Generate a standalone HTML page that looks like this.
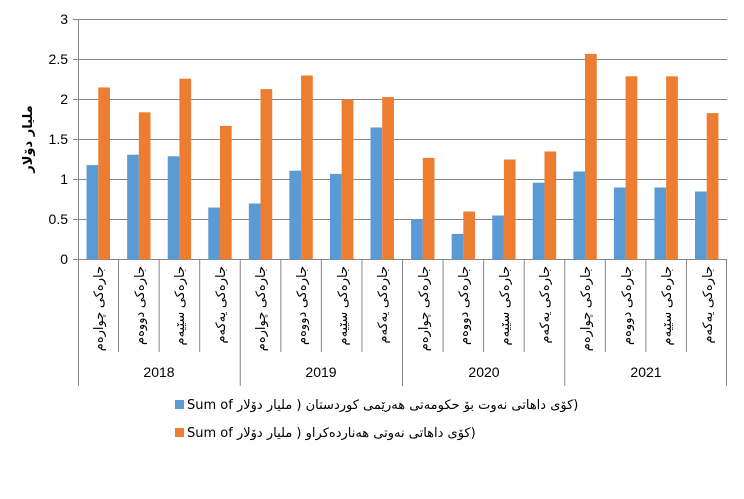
<!DOCTYPE html>
<html><head><meta charset="utf-8"><style>
body{margin:0;background:#fff;}
svg text{font-family:"Liberation Sans","DejaVu Sans",sans-serif;}
.ar{font-family:"DejaVu Sans",sans-serif;}
</style></head><body>
<svg width="744" height="494" xmlns="http://www.w3.org/2000/svg">
<rect width="744" height="494" fill="#fff"/>
<g stroke="#868686" stroke-width="1">
<line x1="78" y1="19.5" x2="727" y2="19.5"/>
<line x1="78" y1="59.5" x2="727" y2="59.5"/>
<line x1="78" y1="99.5" x2="727" y2="99.5"/>
<line x1="78" y1="139.5" x2="727" y2="139.5"/>
<line x1="78" y1="179.5" x2="727" y2="179.5"/>
<line x1="78" y1="219.5" x2="727" y2="219.5"/>
<line x1="78" y1="259.5" x2="727" y2="259.5"/>
<line x1="78.5" y1="19" x2="78.5" y2="259"/>
<line x1="73" y1="19.5" x2="78" y2="19.5"/>
<line x1="73" y1="59.5" x2="78" y2="59.5"/>
<line x1="73" y1="99.5" x2="78" y2="99.5"/>
<line x1="73" y1="139.5" x2="78" y2="139.5"/>
<line x1="73" y1="179.5" x2="78" y2="179.5"/>
<line x1="73" y1="219.5" x2="78" y2="219.5"/>
<line x1="73" y1="259.5" x2="78" y2="259.5"/>
</g>
<g font-size="14" fill="#000" text-anchor="end">
<text x="68" y="24">3</text><text x="68" y="64">2.5</text><text x="68" y="104">2</text>
<text x="68" y="144">1.5</text><text x="68" y="184">1</text><text x="68" y="224">0.5</text><text x="68" y="264">0</text>
</g>
<text transform="translate(32,139) rotate(-90)" text-anchor="middle" font-size="13" font-weight="bold" class="ar">ملیار دۆلار</text>
<g fill="#5b9bd5">
<rect x="86.58" y="165.1" width="11.7" height="94.4"/>
<rect x="127.14" y="154.7" width="11.7" height="104.8"/>
<rect x="167.71" y="156.3" width="11.7" height="103.2"/>
<rect x="208.27" y="207.5" width="11.7" height="52"/>
<rect x="248.83" y="203.5" width="11.7" height="56"/>
<rect x="289.39" y="170.7" width="11.7" height="88.8"/>
<rect x="329.96" y="173.9" width="11.7" height="85.6"/>
<rect x="370.52" y="127.5" width="11.7" height="132"/>
<rect x="411.08" y="219.5" width="11.7" height="40"/>
<rect x="451.64" y="233.9" width="11.7" height="25.6"/>
<rect x="492.21" y="215.5" width="11.7" height="44"/>
<rect x="532.77" y="182.7" width="11.7" height="76.8"/>
<rect x="573.33" y="171.5" width="11.7" height="88"/>
<rect x="613.89" y="187.5" width="11.7" height="72"/>
<rect x="654.46" y="187.5" width="11.7" height="72"/>
<rect x="695.02" y="191.5" width="11.7" height="68"/>
</g>
<g fill="#ed7d31">
<rect x="98.28" y="87.5" width="11.7" height="172"/>
<rect x="138.84" y="112.3" width="11.7" height="147.2"/>
<rect x="179.41" y="78.7" width="11.7" height="180.8"/>
<rect x="219.97" y="125.9" width="11.7" height="133.6"/>
<rect x="260.53" y="89.1" width="11.7" height="170.4"/>
<rect x="301.09" y="75.5" width="11.7" height="184"/>
<rect x="341.66" y="99.5" width="11.7" height="160"/>
<rect x="382.22" y="97.1" width="11.7" height="162.4"/>
<rect x="422.78" y="157.9" width="11.7" height="101.6"/>
<rect x="463.34" y="211.5" width="11.7" height="48"/>
<rect x="503.91" y="159.5" width="11.7" height="100"/>
<rect x="544.47" y="151.5" width="11.7" height="108"/>
<rect x="585.03" y="53.9" width="11.7" height="205.6"/>
<rect x="625.59" y="76.3" width="11.7" height="183.2"/>
<rect x="666.16" y="76.3" width="11.7" height="183.2"/>
<rect x="706.72" y="113.1" width="11.7" height="146.4"/>
</g>
<g stroke="#868686" stroke-width="1">
<line x1="78.5" y1="259" x2="78.5" y2="386"/>
<line x1="118.56" y1="259" x2="118.56" y2="352"/>
<line x1="159.13" y1="259" x2="159.13" y2="352"/>
<line x1="199.69" y1="259" x2="199.69" y2="352"/>
<line x1="240.25" y1="259" x2="240.25" y2="386"/>
<line x1="280.81" y1="259" x2="280.81" y2="352"/>
<line x1="321.38" y1="259" x2="321.38" y2="352"/>
<line x1="361.94" y1="259" x2="361.94" y2="352"/>
<line x1="402.5" y1="259" x2="402.5" y2="386"/>
<line x1="443.06" y1="259" x2="443.06" y2="352"/>
<line x1="483.63" y1="259" x2="483.63" y2="352"/>
<line x1="524.19" y1="259" x2="524.19" y2="352"/>
<line x1="564.75" y1="259" x2="564.75" y2="386"/>
<line x1="605.31" y1="259" x2="605.31" y2="352"/>
<line x1="645.88" y1="259" x2="645.88" y2="352"/>
<line x1="686.44" y1="259" x2="686.44" y2="352"/>
<line x1="726.5" y1="259" x2="726.5" y2="386"/>
</g>
<g font-size="13" class="ar" text-anchor="end">
<text transform="translate(103,266) rotate(-90)">جارەکی چوارەم</text>
<text transform="translate(144,266) rotate(-90)">جارەکی دووەم</text>
<text transform="translate(184,266) rotate(-90)">جارەکی سێیەم</text>
<text transform="translate(225,266) rotate(-90)">جارەکی یەکەم</text>
<text transform="translate(265,266) rotate(-90)">جارەکی چوارەم</text>
<text transform="translate(306,266) rotate(-90)">جارەکی دووەم</text>
<text transform="translate(347,266) rotate(-90)">جارەکی سێیەم</text>
<text transform="translate(387,266) rotate(-90)">جارەکی یەکەم</text>
<text transform="translate(428,266) rotate(-90)">جارەکی چوارەم</text>
<text transform="translate(468,266) rotate(-90)">جارەکی دووەم</text>
<text transform="translate(509,266) rotate(-90)">جارەکی سێیەم</text>
<text transform="translate(549,266) rotate(-90)">جارەکی یەکەم</text>
<text transform="translate(590,266) rotate(-90)">جارەکی چوارەم</text>
<text transform="translate(631,266) rotate(-90)">جارەکی دووەم</text>
<text transform="translate(671,266) rotate(-90)">جارەکی سێیەم</text>
<text transform="translate(712,266) rotate(-90)">جارەکی یەکەم</text>
</g>
<g font-size="14" text-anchor="middle">
<text x="159" y="377">2018</text><text x="321" y="377">2019</text><text x="484" y="377">2020</text><text x="646" y="377">2021</text>
</g>
<rect x="175" y="400" width="9" height="9" fill="#5b9bd5"/>
<text x="187" y="409" font-size="13" class="ar">Sum of ملیار دۆلار&#x200E; )&#x200E; کۆی داهاتی نەوت بۆ حکومەتی هەرێمی کوردستان&#x200E;)</text>
<rect x="175" y="428" width="9" height="9" fill="#ed7d31"/>
<text x="187" y="437" font-size="13" class="ar">Sum of ملیار دۆلار&#x200E; )&#x200E; کۆی داهاتی نەوتی هەناردەکراو&#x200E;)</text>
</svg>
</body></html>
